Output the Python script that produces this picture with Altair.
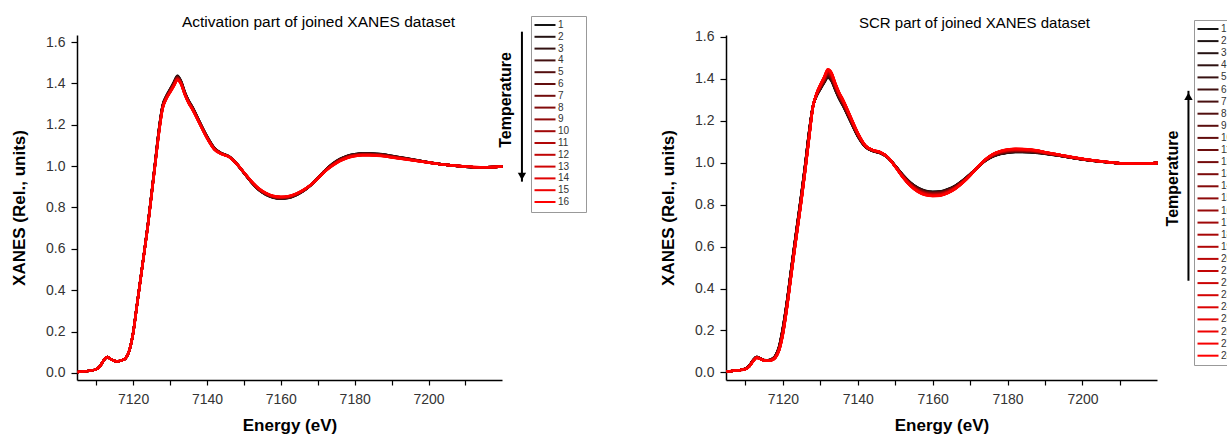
import altair as alt
import pandas as pd

# ---------------- data ----------------
energy = [7105, 7108, 7110, 7111, 7112, 7113, 7114, 7115, 7116, 7117, 7118, 7119,
          7120, 7121, 7122, 7123, 7124, 7125, 7126, 7127, 7128, 7129, 7130, 7131,
          7132, 7133, 7134, 7135, 7136, 7138, 7140, 7142, 7144, 7146, 7148, 7150,
          7152, 7154, 7156, 7158, 7160, 7162, 7164, 7166, 7168, 7170, 7172, 7174,
          7176, 7178, 7180, 7182, 7184, 7186, 7188, 7190, 7194, 7198, 7202, 7206,
          7210, 7214, 7218, 7220]

# Activation: first (black) and last (red) spectra
act_first = [0.005, 0.010, 0.018, 0.032, 0.060, 0.077, 0.066, 0.058, 0.057, 0.062, 0.072, 0.110,
             0.195, 0.325, 0.455, 0.585, 0.720, 0.870, 1.025, 1.180, 1.295, 1.340, 1.372, 1.405,
             1.437, 1.410, 1.358, 1.318, 1.288, 1.215, 1.145, 1.088, 1.062, 1.047, 1.012, 0.967,
             0.922, 0.885, 0.861, 0.847, 0.843, 0.846, 0.858, 0.878, 0.906, 0.942, 0.980, 1.012,
             1.035, 1.050, 1.058, 1.062, 1.062, 1.060, 1.056, 1.050, 1.038, 1.025, 1.013, 1.004,
             0.997, 0.994, 0.996, 0.998]
act_last = [0.005, 0.010, 0.018, 0.032, 0.060, 0.077, 0.066, 0.058, 0.057, 0.062, 0.072, 0.110,
            0.190, 0.320, 0.450, 0.580, 0.710, 0.860, 1.010, 1.160, 1.277, 1.325, 1.355, 1.385,
            1.415, 1.395, 1.345, 1.305, 1.275, 1.205, 1.135, 1.080, 1.058, 1.044, 1.012, 0.970,
            0.928, 0.893, 0.870, 0.856, 0.852, 0.855, 0.866, 0.884, 0.908, 0.940, 0.975, 1.002,
            1.024, 1.039, 1.048, 1.052, 1.052, 1.050, 1.047, 1.042, 1.032, 1.022, 1.012, 1.004,
            0.998, 0.995, 0.996, 0.998]

# SCR: first (black) and last (red) spectra
scr_first = [0.005, 0.010, 0.018, 0.032, 0.058, 0.074, 0.066, 0.059, 0.058, 0.064, 0.080, 0.125,
             0.215, 0.330, 0.465, 0.600, 0.730, 0.860, 1.000, 1.150, 1.268, 1.318, 1.350, 1.380,
             1.405, 1.388, 1.345, 1.305, 1.272, 1.198, 1.125, 1.075, 1.055, 1.045, 1.024, 0.985,
             0.942, 0.906, 0.881, 0.866, 0.861, 0.863, 0.873, 0.890, 0.915, 0.945, 0.978, 1.008,
             1.028, 1.040, 1.047, 1.050, 1.050, 1.049, 1.046, 1.042, 1.032, 1.020, 1.010, 1.003,
             0.997, 0.995, 0.996, 0.998]
scr_last = [0.005, 0.010, 0.016, 0.028, 0.052, 0.070, 0.064, 0.057, 0.055, 0.058, 0.070, 0.105,
            0.180, 0.295, 0.430, 0.565, 0.695, 0.825, 0.965, 1.115, 1.262, 1.330, 1.372, 1.408,
            1.445, 1.428, 1.378, 1.335, 1.302, 1.222, 1.142, 1.082, 1.060, 1.050, 1.026, 0.980,
            0.930, 0.889, 0.861, 0.845, 0.840, 0.842, 0.854, 0.874, 0.903, 0.938, 0.978, 1.014,
            1.040, 1.055, 1.063, 1.066, 1.065, 1.063, 1.058, 1.050, 1.037, 1.024, 1.013, 1.004,
            0.997, 0.995, 0.996, 0.998]

act_labels = [str(i) for i in range(1, 17)]
scr_labels = [str(i) for i in range(1, 29)]

x_ticks = [7110, 7120, 7130, 7140, 7150, 7160, 7170, 7180, 7190, 7200, 7210]
y_ticks = [0.0, 0.1, 0.2, 0.3, 0.4, 0.5, 0.6, 0.7, 0.8, 0.9, 1.0, 1.1, 1.2, 1.3, 1.4, 1.5, 1.6]

# annotation anchors (data coordinates)
act_arrow_x = 7225.3
act_arrow_y = [1.650, 0.925]
act_head_y = 0.95
act_text_xy = [7221.0, 1.32]
scr_arrow_x = 7228.3
scr_arrow_y = [0.437, 1.342]
scr_head_y = 1.316
scr_text_xy = [7224.2, 0.924]

FONT = "Liberation Sans"


def ramp(n):
    cols = []
    for i in range(n):
        t = i / (n - 1)
        r = int(round(20 + 235 * t))
        g = int(round(20 * (1 - t)))
        cols.append("#%02x%02x%02x" % (r, g, g))
    return cols


def spectra(first, last, labels):
    rows = []
    n = len(labels)
    for k, lab in enumerate(labels):
        w = k / (n - 1)
        for e, a, b in zip(energy, first, last):
            rows.append({"E": e, "v": (1 - w) * a + w * b, "curve": lab, "k": k})
    return pd.DataFrame(rows)


def panel(first, last, labels, title, tfs, tdx, toff, ydom, w, h, legx, legy, rowpad,
          arrow_x, arrow_y, head_shape, head_y, text_xy):
    df = spectra(first, last, labels)
    xsc = alt.Scale(domain=[7104.8, 7219.9], nice=False, zero=False)
    ysc = alt.Scale(domain=ydom, nice=False, zero=False)
    xax = alt.Axis(values=x_ticks, labelExpr="datum.value % 20 == 0 ? datum.label : ''",
                   title="Energy (eV)", grid=False, tickSize=5, labelPadding=7,
                   titlePadding=11, format="d")
    yax = alt.Axis(values=y_ticks,
                   labelExpr="round(datum.value*10) % 2 == 0 ? format(datum.value, '.1f') : ''",
                   title="XANES (Rel., units)", grid=False,
                   tickSize={"condition": {"test": "round(datum.value*10) % 2 == 0", "value": 6},
                             "value": 4},
                   labelPadding=6, titlePadding=17)
    lines = alt.Chart(df).mark_line(strokeWidth=2.4, interpolate="monotone").encode(
        x=alt.X("E:Q", scale=xsc, axis=xax),
        y=alt.Y("v:Q", scale=ysc, axis=yax),
        color=alt.Color("curve:N", sort=labels,
                        scale=alt.Scale(domain=labels, range=ramp(len(labels))),
                        legend=alt.Legend(title="00", titleOrient="right", titleColor="transparent",
                                          titleFontSize=10, titlePadding=1,
                                          orient="none", legendX=legx, legendY=legy,
                                          direction="vertical", columns=1, symbolLimit=40,
                                          symbolType="M-3,0H3", symbolSize=49,
                                          symbolStrokeWidth=2, symbolOffset=5,
                                          labelFontSize=10, labelColor="#333",
                                          labelOffset=8, padding=4, rowPadding=rowpad,
                                          strokeColor="#999", fillColor="white")),
        order=alt.Order("k:Q"),
    )
    arrow_df = pd.DataFrame({"x": [arrow_x], "y1": [arrow_y[0]], "y2": [arrow_y[1]]})
    shaft = alt.Chart(arrow_df).mark_rule(color="black", strokeWidth=2).encode(
        x=alt.X("x:Q", scale=xsc), y=alt.Y("y1:Q", scale=ysc), y2="y2:Q")
    head_df = pd.DataFrame({"x": [arrow_x], "y": [head_y]})
    head = alt.Chart(head_df).mark_point(shape=head_shape, filled=True, color="black",
                                         size=70, opacity=1).encode(
        x=alt.X("x:Q", scale=xsc), y=alt.Y("y:Q", scale=ysc))
    text_df = pd.DataFrame({"x": [text_xy[0]], "y": [text_xy[1]], "t": ["Temperature"]})
    txt = alt.Chart(text_df).mark_text(angle=270, fontSize=16, fontWeight="bold",
                                       font=FONT, color="black").encode(
        x=alt.X("x:Q", scale=xsc), y=alt.Y("y:Q", scale=ysc), text="t:N")
    return alt.layer(lines, shaft, head, txt).properties(
        width=w, height=h,
        title=alt.TitleParams(title, fontSize=tfs, fontWeight="normal", font=FONT,
                              color="black", anchor="middle", dx=tdx, offset=toff))


left = panel(act_first, act_last, act_labels, "Activation part of joined XANES dataset",
             15.5, 29, -15, [-0.034, 1.634], 425, 345, 454, -19, 1.8,
             act_arrow_x, act_arrow_y, "triangle-down", act_head_y, act_text_xy)
right = panel(scr_first, scr_last, scr_labels, "SCR part of joined XANES dataset",
              15, 33, -11, [-0.036, 1.608], 431, 345, 468, -15, 2.1,
              scr_arrow_x, scr_arrow_y, "triangle-up", scr_head_y, scr_text_xy)

chart = alt.hconcat(left, right, spacing=224, bounds="flush").resolve_scale(
    color="independent"
).resolve_legend(
    color="independent"
).properties(
    padding={"left": 10, "top": 15, "right": -23, "bottom": 10}
).configure(font=FONT).configure_view(stroke=None).configure_axis(
    domainColor="black", domainWidth=1.5, tickColor="black", tickWidth=1.2,
    labelColor="#333", labelFontSize=14, labelFont=FONT,
    titleFont=FONT, titleFontSize=17, titleFontWeight="bold", titleColor="black"
)

chart.save("out.html", embed_options={"renderer": "svg", "actions": False})
